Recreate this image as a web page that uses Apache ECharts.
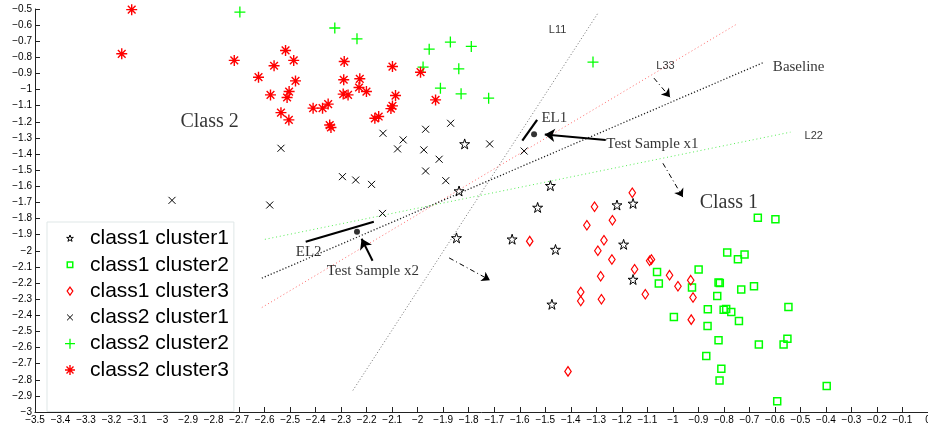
<!DOCTYPE html>
<html><head><meta charset="utf-8">
<script src="https://cdn.jsdelivr.net/npm/echarts@6/dist/echarts.min.js"></script>
<style>html,body{margin:0;padding:0;background:#fff}#c{width:928px;height:433px}</style>
</head><body><div id="c"></div>
<script>
// ---------- axes ----------
const xRange = [-3.5, 0];
const yRange = [-3, -0.5];
const tickStep = 0.1;

// ---------- legend / series names ----------
const seriesNames = ['class1 cluster1','class1 cluster2','class1 cluster3','class2 cluster1','class2 cluster2','class2 cluster3'];

// ---------- scatter data ----------
const class1Cluster1 = [[-1.816,-1.337],[-1.838,-1.629],[-1.480,-1.596],[-1.530,-1.731],[-1.219,-1.716],[-1.156,-1.706],[-1.848,-1.920],[-1.630,-1.928],[-1.460,-1.992],[-1.474,-2.332],[-1.193,-1.960],[-1.156,-2.178]];
const class1Cluster2 = [[-0.667,-1.795],[-0.598,-1.805],[-0.787,-2.010],[-0.719,-2.023],[-0.745,-2.052],[-1.062,-2.131],[-0.899,-2.116],[-1.055,-2.203],[-0.925,-2.228],[-0.821,-2.197],[-0.816,-2.199],[-0.732,-2.240],[-0.682,-2.220],[-0.826,-2.280],[-0.863,-2.363],[-0.801,-2.365],[-0.791,-2.361],[-0.771,-2.379],[-0.547,-2.348],[-0.996,-2.411],[-0.741,-2.435],[-0.864,-2.467],[-0.821,-2.555],[-0.663,-2.582],[-0.551,-2.545],[-0.566,-2.582],[-0.869,-2.653],[-0.810,-2.731],[-0.817,-2.804],[-0.397,-2.839],[-0.591,-2.934]];
const class1Cluster3 = [[-1.307,-1.727],[-1.237,-1.810],[-1.337,-1.841],[-1.270,-1.934],[-1.561,-1.940],[-1.294,-2.000],[-1.239,-2.054],[-1.283,-2.158],[-1.361,-2.255],[-1.361,-2.311],[-1.280,-2.300],[-1.411,-2.748],[-1.159,-1.640],[-1.084,-2.054],[-1.091,-2.062],[-1.150,-2.114],[-1.108,-2.269],[-1.013,-2.151],[-0.980,-2.220],[-0.930,-2.182],[-0.921,-2.290],[-0.928,-2.427]];
const class2Cluster1 = [[-2.536,-1.364],[-2.963,-1.687],[-2.580,-1.716],[-2.136,-1.271],[-2.057,-1.312],[-2.079,-1.368],[-1.969,-1.246],[-1.871,-1.209],[-1.976,-1.374],[-1.916,-1.432],[-1.969,-1.505],[-1.890,-1.565],[-1.718,-1.337],[-1.583,-1.381],[-2.295,-1.540],[-2.243,-1.561],[-2.181,-1.588],[-2.138,-1.768]];
const class2Cluster2 = [[-2.697,-0.519],[-2.325,-0.618],[-2.238,-0.685],[-1.955,-0.749],[-1.872,-0.705],[-1.790,-0.732],[-1.979,-0.860],[-1.839,-0.871],[-1.911,-0.991],[-1.830,-1.026],[-1.722,-1.053],[-1.313,-0.829]];
const class2Cluster3 = [[-3.121,-0.504],[-3.160,-0.778],[-2.719,-0.819],[-2.518,-0.757],[-2.486,-0.819],[-2.563,-0.852],[-2.624,-0.923],[-2.479,-0.946],[-2.504,-1.012],[-2.512,-1.049],[-2.577,-1.033],[-2.410,-1.115],[-2.536,-1.143],[-2.505,-1.188],[-2.288,-0.826],[-2.290,-0.939],[-2.227,-0.933],[-2.230,-0.987],[-2.201,-1.012],[-2.292,-1.028],[-2.273,-1.033],[-2.373,-1.115],[-2.351,-1.090],[-2.345,-1.220],[-2.340,-1.235],[-2.099,-0.857],[-1.989,-0.892],[-2.087,-1.037],[-2.099,-1.101],[-2.105,-1.118],[-2.153,-1.167],[-2.168,-1.178],[-1.930,-1.064]];

// ---------- reference lines ----------
const lineL11 = [[-2.254,-2.866],[-1.295,-0.529]];
const lineBaseline = [[-2.611,-2.170],[-0.641,-0.829]];
const lineL33 = [[-2.611,-2.352],[-0.754,-0.598]];
const lineL22 = [[-2.599,-1.929],[-0.539,-1.264]];
const lineEL1 = [[-1.590,-1.317],[-1.532,-1.188]];
const lineEL2 = [[-2.439,-1.944],[-2.172,-1.820]];
const testSamples = [[-1.544,-1.277],[-2.238,-1.882]];

// ---------- arrows ----------
const arrowX1 = [[-1.263,-1.312],[-1.502,-1.279]];
const arrowX2 = [[-2.177,-2.062],[-2.220,-1.925]];
const dashArrow1 = [[-1.074,-0.929],[-1.011,-1.047]];
const dashArrow2 = [[-1.039,-1.457],[-0.961,-1.667]];
const dashArrow3 = [[-1.877,-2.044],[-1.717,-2.182]];

// ---------- annotations ----------
const annotationTexts = ['Class 2','Class 1','Baseline','Test Sample x1','EL1','EL2','Test Sample x2','L11','L33','L22'];
const annotationX = [-2.930,-0.895,-0.608,-1.261,-1.515,-2.478,-2.357,-1.486,-1.065,-0.484];
const annotationY = [-1.200,-1.704,-0.859,-1.337,-1.174,-2.007,-2.126,-0.629,-0.852,-1.287];

// ================= styles =================
const SERIF = '"Liberation Serif","DejaVu Serif",serif';
const SANS = '"Liberation Sans","DejaVu Sans",Arial,sans-serif';
const labelFont = {
  'Class 2': [SERIF, 20], 'Class 1': [SERIF, 20],
  'Baseline': [SERIF, 15], 'Test Sample x1': [SERIF, 15], 'Test Sample x2': [SERIF, 15],
  'EL1': [SERIF, 15], 'EL2': [SERIF, 15],
  'L11': [SANS, 11], 'L33': [SANS, 11], 'L22': [SANS, 11]
};

const P_STAR = 'M50,0L61.17,34.63L97.55,34.55L68.07,55.87L79.39,90.45L50,69L20.61,90.45L31.93,55.87L2.45,34.55L38.83,34.63Z';
const P_SQUARE = 'M0,0L100,0L100,100L0,100Z';
const P_DIAMOND = 'M50,0L100,70L50,140L0,70Z';
const P_X = 'M0,0L100,100M100,0L0,100';
const P_PLUS = 'M50,0L50,100M0,50L100,50';
const P_AST = 'M50,0L50,100M0,50L100,50M15,15L85,85M85,15L15,85';
function pad(p, a, b, c, d) { return 'path://M' + a + ',' + b + 'M' + c + ',' + d + p; }

const markerDefs = [
  { data: class1Cluster1, sym: 'path://' + P_STAR, size: 10, color: '#000', w: 1, icon: pad(P_STAR, -28, -28, 128, 128) },
  { data: class1Cluster2, sym: 'path://' + P_SQUARE, size: 7, color: '#00ff00', w: 1.5, icon: pad(P_SQUARE, -50, -50, 150, 150) },
  { data: class1Cluster3, sym: 'path://' + P_DIAMOND, size: [6.5, 9.5], color: '#ff0000', w: 1.2, icon: pad(P_DIAMOND, -26, -26, 126, 166) },
  { data: class2Cluster1, sym: 'path://' + P_X, size: 7, color: '#000', w: 1, icon: pad(P_X, -45, -45, 145, 145) },
  { data: class2Cluster2, sym: 'path://' + P_PLUS, size: 11, color: '#00ff00', w: 1.3, icon: pad(P_PLUS, -5, -5, 105, 105) },
  { data: class2Cluster3, sym: 'path://' + P_AST, size: 11, color: '#ff0000', w: 1.4, icon: pad(P_AST, -5, -5, 105, 105) }
];

function fmt(v) { return String(Math.round(v * 10) / 10).replace('-', '\u2212'); }

const series = [];
function refLine(data, color, width, dash) {
  series.push({ type: 'line', data: data, showSymbol: false, symbol: 'none', silent: true, z: 1,
    lineStyle: { color: color, width: width, type: dash } });
}
refLine(lineL11, '#707070', 1, [1, 2.2]);
refLine(lineL33, '#ff6a6a', 1, [1, 2.6]);
refLine(lineBaseline, '#222', 1.3, [1.2, 2]);
refLine(lineL22, '#55ee55', 1, [1, 2.8]);
refLine(lineEL1, '#000', 2.2, 'solid');
refLine(lineEL2, '#000', 2.2, 'solid');

function arrow(data, width, dash, size) {
  series.push({ type: 'lines', coordinateSystem: 'cartesian2d', silent: true, z: 3,
    symbol: ['none', 'arrow'], symbolSize: size,
    lineStyle: { color: '#000', width: width, type: dash, opacity: 1 },
    data: [{ coords: data }] });
}
arrow(arrowX1, 2, 'solid', 10);
arrow(arrowX2, 2, 'solid', 10);
arrow(dashArrow1, 1, [5, 3, 1, 3], 8);
arrow(dashArrow2, 1, [5, 3, 1, 3], 8);
arrow(dashArrow3, 1, [5, 3, 1, 3], 8);

markerDefs.forEach(function (m, i) {
  series.push({ type: 'scatter', name: seriesNames[i], data: m.data, symbol: m.sym, symbolSize: m.size,
    itemStyle: { color: 'none', borderColor: m.color, borderWidth: m.w, opacity: 1 }, z: 4 });
});

series.push({ type: 'scatter', data: testSamples, symbol: 'circle', symbolSize: 6, silent: true,
  itemStyle: { color: '#000' }, z: 5 });

series.push({ type: 'scatter', silent: true, symbolSize: 0, z: 6,
  data: annotationTexts.map(function (t, i) {
    const f = labelFont[t];
    return { value: [annotationX[i], annotationY[i]], name: t,
      label: { show: true, position: 'right', distance: 0, formatter: t, color: '#000', fontFamily: f[0], fontSize: f[1] } };
  })
});

const chart = echarts.init(document.getElementById('c'), null, { renderer: 'canvas' });
chart.setOption({
  animation: false,
  backgroundColor: '#fff',
  grid: { left: 35, right: 0, top: 9, bottom: 21, containLabel: false, outerBoundsMode: 'none' },
  xAxis: {
    type: 'value', min: xRange[0], max: xRange[1], interval: tickStep,
    axisLine: { show: true, onZero: false, lineStyle: { color: '#222', width: 1 } },
    axisTick: { show: true, inside: true, length: 5, lineStyle: { color: '#222' } },
    axisLabel: { show: true, margin: 3, color: '#000', fontSize: 10, fontFamily: SANS, formatter: fmt, showMinLabel: true, showMaxLabel: true, hideOverlap: false },
    splitLine: { show: false }
  },
  yAxis: {
    type: 'value', min: yRange[0], max: yRange[1], interval: tickStep,
    axisLine: { show: true, onZero: false, lineStyle: { color: '#222', width: 1 } },
    axisTick: { show: true, inside: true, length: 5, lineStyle: { color: '#222' } },
    axisLabel: { show: true, margin: 3, color: '#000', fontSize: 10, fontFamily: SANS, formatter: fmt, showMinLabel: true, showMaxLabel: true, hideOverlap: false },
    splitLine: { show: false }
  },
  legend: {
    orient: 'vertical', left: 47, top: 222,
    padding: [6, 5, 31, 15], itemGap: 5.3, itemWidth: 30, itemHeight: 11,
    backgroundColor: '#fff', borderColor: '#dfe7e7', borderWidth: 1,
    symbolKeepAspect: true, selectedMode: false,
    textStyle: { color: '#000', fontSize: 21, lineHeight: 21, fontFamily: SANS },
    data: seriesNames.map(function (n, i) {
      const m = markerDefs[i];
      return { name: n, icon: m.icon, itemStyle: { color: 'none', borderColor: m.color, borderWidth: m.w } };
    })
  },
  series: series
});
</script>
</body></html>
